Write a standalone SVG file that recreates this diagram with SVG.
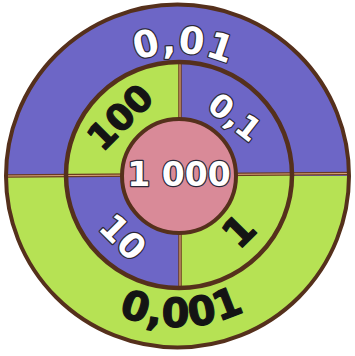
<svg xmlns="http://www.w3.org/2000/svg" width="355" height="356" viewBox="0 0 355 356">
  <defs>
    <style>
      .blue { fill: #6d66c6; }
      .green { fill: #b6e254; }
      .pink { fill: #d98a98; }
      .ring { fill: none; stroke: #55301c; }
      .div-dark { stroke: #6a3a20; stroke-width: 3.5; fill: none; }
      .div-light { stroke: #d9a77a; stroke-width: 1.2; fill: none; }
      .num { font-family: "DejaVu Sans", "Liberation Sans", sans-serif; font-weight: bold; text-anchor: middle; }
      .w { fill: #ffffff; stroke: #2b2838; stroke-width: 2.5; paint-order: stroke; stroke-linejoin: round; }
      .k { fill: #141414; stroke: #141414; stroke-width: 1.2; stroke-linejoin: round; }
    </style>
    <path id="arcTop" d="M 54.5,176 A 123 123 0 0 1 300.5,176"/>
    <path id="arcBottom" d="M 26.5,176 A 151 151 0 0 0 328.5,176"/>
  </defs>
  <rect width="355" height="356" fill="#ffffff"/>

  <g id="outer-top">
    <path class="blue" d="M 6,176 A 171.5 171.5 0 0 1 349,176 Z"/>
  </g>
  <g id="outer-bottom">
    <path class="green" d="M 6,176 A 171.5 171.5 0 0 0 349,176 Z"/>
  </g>
  <g id="mid-tl">
    <path class="green" d="M 179,175 L 66,175 A 113 113 0 0 1 179,62 Z"/>
  </g>
  <g id="mid-tr">
    <path class="blue" d="M 179,175 L 179,62 A 113 113 0 0 1 292,175 Z"/>
  </g>
  <g id="mid-br">
    <path class="green" d="M 179,175 L 292,175 A 113 113 0 0 1 179,288 Z"/>
  </g>
  <g id="mid-bl">
    <path class="blue" d="M 179,175 L 179,288 A 113 113 0 0 1 66,175 Z"/>
  </g>

  <g id="connectors">
    <line class="div-dark" x1="5" y1="176" x2="350" y2="173.5"/>
    <line class="div-light" x1="5" y1="176" x2="350" y2="173.5"/>
    <line class="div-dark" x1="180" y1="62" x2="180" y2="288"/>
    <line class="div-light" x1="180" y1="62" x2="180" y2="288"/>
    <circle class="ring" cx="177.5" cy="176" r="171.5" stroke-width="4"/>
    <circle class="ring" cx="179" cy="175" r="113" stroke-width="4.5"/>
  </g>

  <g id="center">
    <circle class="pink" cx="179" cy="176" r="57"/>
    <circle class="ring" cx="179" cy="176" r="57" stroke-width="4"/>
    <text class="num w" x="179" y="186" font-size="33">1 000</text>
  </g>

  <g id="label-0-01">
    <text class="num w" font-size="37" letter-spacing="1"><textPath href="#arcTop" startOffset="51.5%">0,01</textPath></text>
  </g>
  <g id="label-0-001">
    <text class="num k" font-size="40" letter-spacing="1"><textPath href="#arcBottom" startOffset="51%">0,001</textPath></text>
  </g>
  <g id="label-100">
    <text class="num k" font-size="36" transform="translate(120,117) rotate(-45)" y="13">100</text>
  </g>
  <g id="label-0-1">
    <text class="num w" font-size="32" transform="translate(235,117) rotate(38)" y="11.5">0,1</text>
  </g>
  <g id="label-10">
    <text class="num w" font-size="35" transform="translate(123,237) rotate(45)" y="12.5">10</text>
  </g>
  <g id="label-1">
    <text class="num k" font-size="40" transform="translate(239,231) rotate(-45)" y="14">1</text>
  </g>
</svg>
